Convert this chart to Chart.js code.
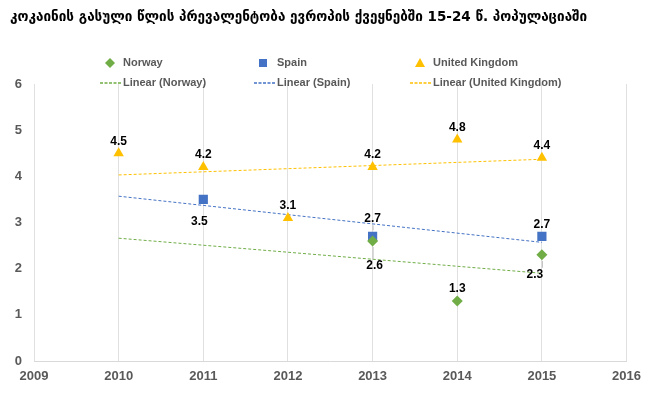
<!DOCTYPE html>
<html>
<head>
<meta charset="utf-8">
<script src="https://cdn.jsdelivr.net/npm/chart.js@4"></script>
<style>
html,body{margin:0;padding:0;background:#fff;}
#wrap{width:649px;height:419px;position:relative;}
</style>
</head>
<body>
<div id="wrap"><canvas id="c" width="649" height="419"></canvas></div>
<script>
const title = "კოკაინის გასული წლის პრევალენტობა ევროპის ქვეყნებში 15-24 წ. პოპულაციაში";
const seriesNames = ["Norway", "Spain", "United Kingdom"];
const norwayYears = [2013, 2014, 2015];
const norwayValues = [2.6, 1.3, 2.3];
const spainYears = [2011, 2013, 2015];
const spainValues = [3.5, 2.7, 2.7];
const ukYears = [2010, 2011, 2012, 2013, 2014, 2015];
const ukValues = [4.5, 4.2, 3.1, 4.2, 4.8, 4.4];
const trendYears = [2010, 2015];
const norwayTrend = [2.66, 1.9];
const spainTrend = [3.57, 2.57];
const ukTrend = [4.03, 4.37];
const xTicks = [2009, 2010, 2011, 2012, 2013, 2014, 2015, 2016];
const yTicks = [0, 1, 2, 3, 4, 5, 6];

const GREEN = "#70AD47", BLUE = "#4472C4", ORANGE = "#FFC000", GREY = "#595959";
const pts = (xs, ys) => xs.map((x, i) => ({x: x, y: ys[i]}));

// label offsets [dx, dy, leader] per series point
const labelOffsets = {
  0: [[2, 25, true], [0, -12, false], [-7, 20, true]],
  1: [[-4, 22, false], [0, -18, true], [0, -12, false]],
  2: [[0, -12, false], [0, -12, false], [0, -12, false], [0, -12, false], [0, -12, false], [0, -12, false]]
};

const overlay = {
  id: "overlay",
  afterDatasetsDraw(chart) {
    const ctx = chart.ctx;
    const xs = chart.scales.x, ys = chart.scales.y;
    ctx.save();
    ctx.font = "bold 12px 'Liberation Sans', Arial, sans-serif";
    ctx.textAlign = "center";
    ctx.textBaseline = "middle";
    [0, 1, 2].forEach(di => {
      const ds = chart.data.datasets[di];
      ds.data.forEach((p, i) => {
        const px = xs.getPixelForValue(p.x), py = ys.getPixelForValue(p.y);
        const o = labelOffsets[di][i];
        const lx = px + o[0], ly = py + o[1];
        if (o[2]) {
          ctx.strokeStyle = "#BFBFBF";
          ctx.lineWidth = 1;
          ctx.beginPath();
          const dir = Math.sign(o[1]);
          ctx.moveTo(px + 0.5, py + dir * 6);
          ctx.lineTo(px + 0.5, ly - dir * 7);
          ctx.stroke();
        }
        ctx.fillStyle = "#000";
        ctx.fillText(String(p.y), lx, ly);
      });
    });
    ctx.restore();
  },
  afterDraw(chart) {
    const ctx = chart.ctx;
    ctx.save();
    ctx.font = "bold 13.5px 'DejaVu Sans', sans-serif";
    ctx.fillStyle = "#000";
    ctx.textAlign = "left";
    ctx.textBaseline = "middle";
    ctx.fillText(title, 10, 17);
    ctx.font = "bold 11px 'Liberation Sans', Arial, sans-serif";
    const cols = [123, 277, 433];
    const colors = [GREEN, BLUE, ORANGE];
    cols.forEach((cx, i) => {
      ctx.fillStyle = colors[i];
      ctx.beginPath();
      if (i === 0) { ctx.moveTo(cx-13,58);ctx.lineTo(cx-8,63);ctx.lineTo(cx-13,68);ctx.lineTo(cx-18,63);ctx.closePath(); }
      else if (i === 1) { ctx.rect(cx-18,59,8,8); }
      else { ctx.moveTo(cx-13,58);ctx.lineTo(cx-8,67);ctx.lineTo(cx-18,67);ctx.closePath(); }
      ctx.fill();
      ctx.fillStyle = GREY;
      ctx.textAlign = "left";
      ctx.fillText(seriesNames[i], cx, 63);
      ctx.strokeStyle = colors[i];
      ctx.lineWidth = 1.5;
      ctx.setLineDash([3, 1.5]);
      ctx.beginPath();
      ctx.moveTo(cx - 23, 83);
      ctx.lineTo(cx - 1, 83);
      ctx.stroke();
      ctx.setLineDash([]);
      ctx.fillText("Linear (" + seriesNames[i] + ")", cx, 83);
    });
    ctx.restore();
  }
};

new Chart(document.getElementById("c"), {
  type: "scatter",
  data: {
    datasets: [
      {label: seriesNames[0], data: pts(norwayYears, norwayValues), backgroundColor: GREEN, borderColor: GREEN, pointStyle: "rectRot", pointRadius: 5.5, pointBorderWidth: 0},
      {label: seriesNames[1], data: pts(spainYears, spainValues), backgroundColor: BLUE, borderColor: BLUE, pointStyle: "rect", pointRadius: 6.5, pointBorderWidth: 0},
      {label: seriesNames[2], data: pts(ukYears, ukValues), backgroundColor: ORANGE, borderColor: ORANGE, pointStyle: "triangle", pointRadius: 6, pointBorderWidth: 0},
      {label: "Linear (Norway)", data: pts(trendYears, norwayTrend), showLine: true, borderColor: GREEN, borderWidth: 1, borderDash: [3, 2], pointRadius: 0},
      {label: "Linear (Spain)", data: pts(trendYears, spainTrend), showLine: true, borderColor: BLUE, borderWidth: 1, borderDash: [3, 2], pointRadius: 0},
      {label: "Linear (United Kingdom)", data: pts(trendYears, ukTrend), showLine: true, borderColor: ORANGE, borderWidth: 1, borderDash: [3, 2], pointRadius: 0}
    ]
  },
  options: {
    responsive: false,
    animation: false,
    layout: {padding: {top: 84, right: 21, bottom: 0, left: 0}},
    plugins: {legend: {display: false}, tooltip: {enabled: false}, title: {display: false}},
    scales: {
      x: {
        type: "linear", min: 2009, max: 2016,
        afterBuildTicks: s => { s.ticks = xTicks.map(v => ({value: v})); },
        ticks: {color: GREY, font: {family: "'Liberation Sans', Arial, sans-serif", size: 13, weight: "bold"}, padding: 8, callback: v => String(v)},
        grid: {color: "#E0E0E0", drawTicks: false, lineWidth: 1},
        border: {color: "#D9D9D9"},
        afterFit: s => { s.height = 58; }
      },
      y: {
        min: 0, max: 6,
        afterBuildTicks: s => { s.ticks = yTicks.map(v => ({value: v})); },
        ticks: {color: GREY, font: {family: "'Liberation Sans', Arial, sans-serif", size: 13, weight: "bold"}, padding: 12},
        grid: {display: false, drawTicks: false},
        border: {display: false},
        afterFit: s => { s.width = 34; }
      }
    }
  },
  plugins: [overlay]
});
</script>
</body>
</html>
